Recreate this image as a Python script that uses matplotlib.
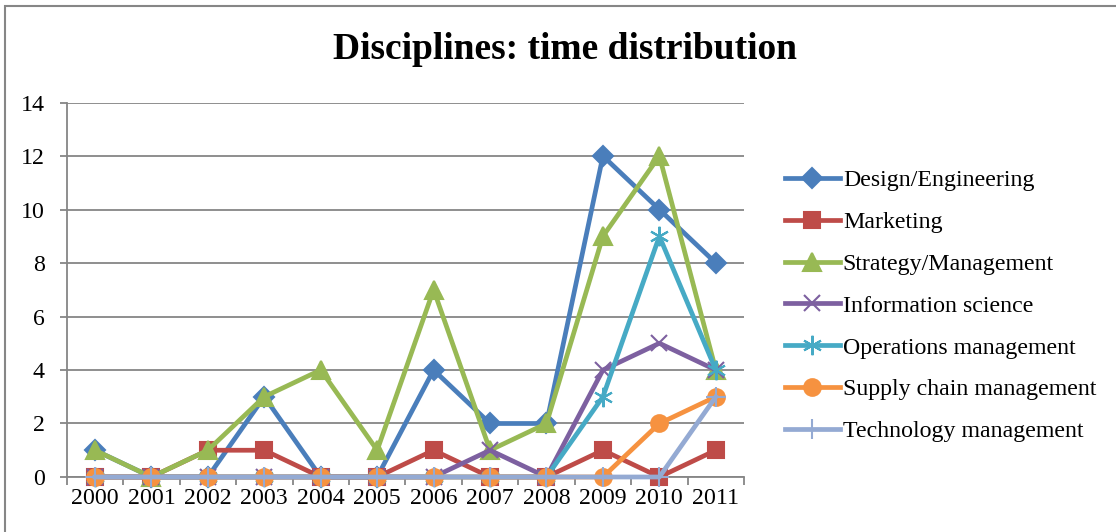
import matplotlib
matplotlib.use('Agg')
import matplotlib.pyplot as plt
from matplotlib.patches import Rectangle
import numpy as np

# Publicaciones por disciplina y por año
years = ['2000', '2001', '2002', '2003', '2004', '2005',
         '2006', '2007', '2008', '2009', '2010', '2011']
design_engineering = [1, 0, 0, 3, 0, 0, 4, 2, 2, 12, 10, 8]
marketing = [0, 0, 1, 1, 0, 0, 1, 0, 0, 1, 0, 1]
strategy_management = [1, 0, 1, 3, 4, 1, 7, 1, 2, 9, 12, 4]
information_science = [0, 0, 0, 0, 0, 0, 0, 1, 0, 4, 5, 4]
operations_management = [0, 0, 0, 0, 0, 0, 0, 0, 0, 3, 9, 4]
supply_chain = [0, 0, 0, 0, 0, 0, 0, 0, 0, 0, 2, 3]
technology_management = [0, 0, 0, 0, 0, 0, 0, 0, 0, 0, 0, 3]

series = [
    ('Design/Engineering', design_engineering, '#4A7EBB', 'D', 10),
    ('Marketing', marketing, '#BE4B48', 's', 11),
    ('Strategy/Management', strategy_management, '#98B954', '^', 13),
    ('Information science', information_science, '#7D60A0', 'x', 12),
    ('Operations management', operations_management, '#46AAC5', (6, 2, 0), 14),
    ('Supply chain management', supply_chain, '#F69240', 'o', 12),
    ('Technology management', technology_management, '#94AAD3', '+', 14),
]

plt.rcParams['font.family'] = ['Liberation Serif', 'DejaVu Serif']

fig = plt.figure(figsize=(11.16, 5.32), dpi=100)
ax = fig.add_axes([0.0598, 0.1034, 0.6069, 0.7039])

x = np.arange(len(years))
for nombre, valores, color, marcador, tam in series:
    ax.plot(x, valores, color=color, lw=3.4, marker=marcador, ms=tam,
            mec=color, mfc=color, mew=1.5, label=nombre, zorder=3,
            clip_on=False)

gris = '#868686'
ax.set_xlim(-0.5, len(years) - 0.5)
ax.set_ylim(0, 14)
ax.set_yticks(range(0, 15, 2))
ax.yaxis.grid(True, color=gris, lw=1.3)
ax.set_axisbelow(True)

# Marcas del eje x entre categorias, etiquetas en el centro
ax.set_xticks(x)
ax.set_xticklabels(years)
ax.set_xticks(np.arange(-0.5, len(years), 1), minor=True)
ax.tick_params(axis='x', which='major', length=0, labelsize=17.2, pad=8)
ax.tick_params(axis='x', which='minor', length=6, color=gris, width=1.3)
ax.tick_params(axis='y', length=5, color=gris, width=1.3, labelsize=17.2, pad=11)

for lado in ['top', 'right']:
    ax.spines[lado].set_visible(False)
for lado in ['left', 'bottom']:
    ax.spines[lado].set_color(gris)
    ax.spines[lado].set_linewidth(1.3)

fig.text(0.506, 0.907, 'Disciplines: time distribution', ha='center',
         va='center', fontsize=27, fontweight='bold')

ax.legend(loc='upper left', bbox_to_anchor=(0.7034, 0.681),
          bbox_transform=fig.transFigure, frameon=False, fontsize=17.2,
          handlelength=2.3, handletextpad=0.12, labelspacing=0.84,
          borderpad=0, borderaxespad=0)

# Marco del grafico (solo borde superior e izquierdo a la vista)
fig.patches.append(Rectangle((0.0045, -0.1), 1.2, 1.089,
                             transform=fig.transFigure, fill=False,
                             ec=gris, lw=1.5))

fig.savefig('out.png', dpi=100)
